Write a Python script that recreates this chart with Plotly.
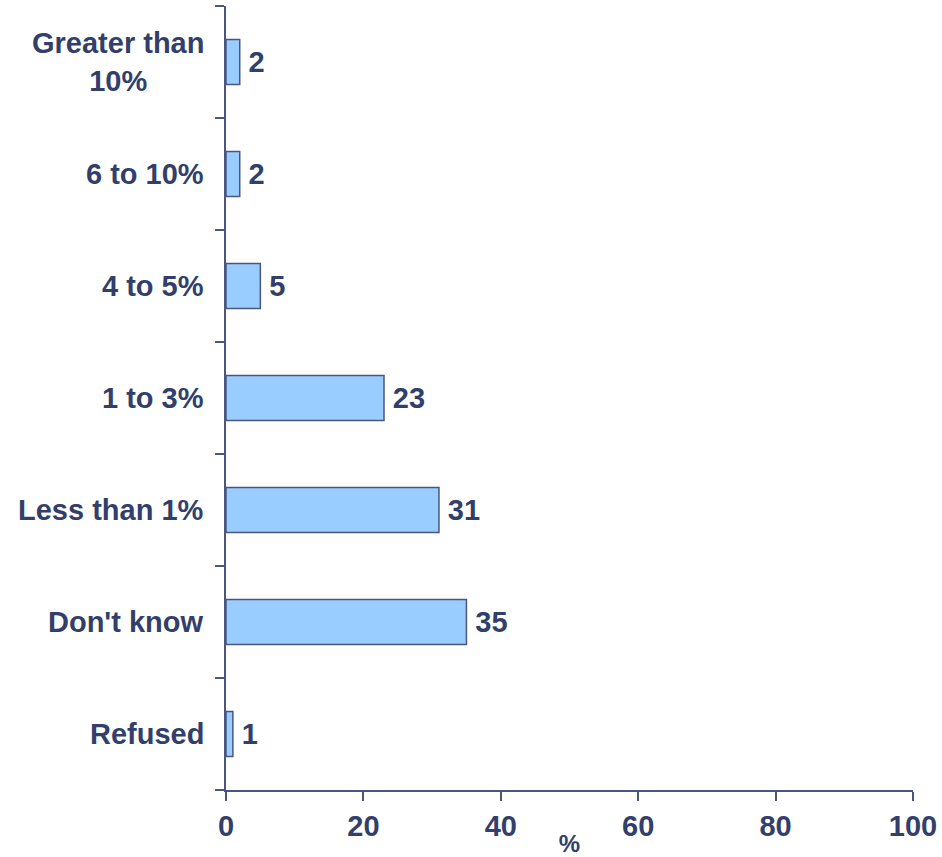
import plotly.graph_objects as go

# Survey responses, listed bottom-to-top as they appear on the axis
categories = ["Refused", "Don't know", "Less than 1%", "1 to 3%", "4 to 5%", "6 to 10%", "Greater than<br>10%"]
values = [1, 35, 31, 23, 5, 2, 2]
x_ticks = [0, 20, 40, 60, 80, 100]

NAVY = "#333F6B"
EDGE = "#4A5680"
FONT = "Liberation Sans, Arial, sans-serif"
SIZE = 29

fig = go.Figure(
    go.Bar(
        x=values,
        y=categories,
        orientation="h",
        width=0.4,
        marker=dict(color="#99CCFF", line=dict(color=EDGE, width=1.5)),
        texttemplate="\u2009<b>%{x}</b>",
        textposition="outside",
        textfont=dict(family=FONT, size=SIZE, color=NAVY),
        cliponaxis=False,
    )
)

# Category labels drawn as centred multi-line text to the left of the axis
for cat in categories:
    fig.add_annotation(
        x=0, xref="paper", y=cat, yref="y",
        text="<b>" + cat + "</b>",
        showarrow=False, xanchor="right", yanchor="middle",
        align="center", xshift=-20,
        font=dict(family=FONT, size=SIZE, color=NAVY),
    )

fig.update_layout(
    width=942, height=857,
    margin=dict(l=226, r=29, t=6, b=67, autoexpand=False),
    paper_bgcolor="white", plot_bgcolor="white",
    showlegend=False,
    font=dict(family=FONT, color=NAVY),
    xaxis=dict(
        range=[0, 100], tickvals=x_ticks, ticktext=["<b>%d</b>" % t for t in x_ticks],
        automargin=False,
        showgrid=False, zeroline=False,
        showline=True, linecolor=EDGE, linewidth=1.5,
        ticks="outside", ticklen=9, tickwidth=1.5, tickcolor=EDGE,
        tickfont=dict(family=FONT, size=SIZE, color=NAVY),
        title=dict(text="<b>%</b>", font=dict(family=FONT, size=24, color=NAVY), standoff=0),
    ),
    yaxis=dict(
        type="category", categoryorder="array", categoryarray=categories,
        range=[-0.5, len(categories) - 0.5],
        automargin=False,
        showticklabels=False, tickson="boundaries",
        showgrid=False, zeroline=False,
        showline=True, linecolor=EDGE, linewidth=1.5,
        ticks="outside", ticklen=9, tickwidth=1.5, tickcolor=EDGE,
    ),
)

fig.write_html("out.html")
